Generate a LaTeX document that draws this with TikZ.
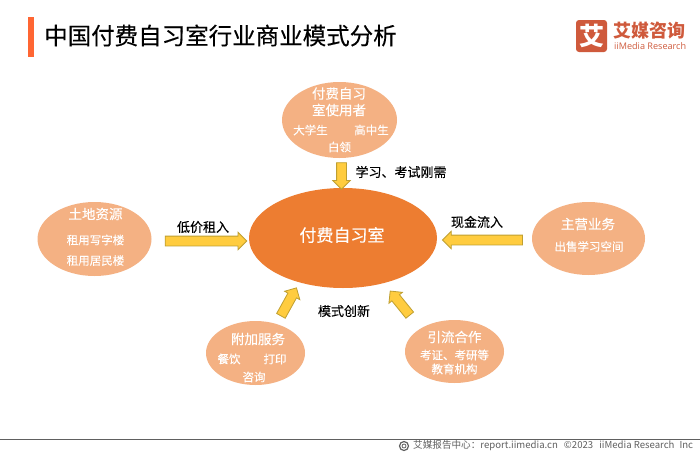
\documentclass[tikz,border=0pt]{standalone}
\usepackage{fontspec}
\setmainfont{Noto Sans CJK SC}
\newfontfamily\medf[FakeBold=0.25]{Noto Sans CJK SC}
\newfontfamily\semif[FakeBold=0.12]{Noto Sans CJK SC}
\newfontfamily\latinsans{Open Sans}
\usetikzlibrary{shapes.geometric,shapes.arrows}
\definecolor{peach}{HTML}{F4B183}
\definecolor{mainor}{HTML}{ED7D31}
\definecolor{gold}{HTML}{FFCC3F}
\definecolor{goldline}{HTML}{BF9F30}
\definecolor{barc}{HTML}{FF6633}
\definecolor{logoc}{HTML}{CF5A3C}
\definecolor{footc}{HTML}{606060}
\tikzset{
  x=1pt,y=-1pt,
  sat/.style={ellipse,fill=peach,inner sep=0pt},
  wt/.style={text=white,inner sep=0pt,font=\semif\fontsize{11.5}{13}\selectfont},
  wh/.style={text=white,inner sep=0pt,font=\medf\fontsize{13.5}{16}\selectfont},
  lab/.style={text=black,inner sep=0pt,font=\semif\fontsize{13}{15}\selectfont},
  blockarrow/.style={single arrow,draw=goldline,line width=0.8pt,fill=gold,inner xsep=0pt,inner ysep=4.5pt,
    single arrow head extend=3.8pt,single arrow tip angle=90,minimum height=#1,anchor=center},
}
\begin{document}
\begin{tikzpicture}
\useasboundingbox (0,0) rectangle (700,455);
\fill[white] (0,0) rectangle (700,455);
% header
\fill[barc] (28,17) rectangle (34,57);
\node[anchor=west,inner sep=0pt,font=\medf\fontsize{23.5}{26}\selectfont] (title) at (44,35.5) {中国付费自习室行业商业模式分析};
\node[fill=logoc,rounded corners=3pt,minimum width=31pt,minimum height=32pt,inner sep=0pt,text=white,font=\fontsize{25}{25}\bfseries] (logo) at (591.5,36) {艾};
\node[anchor=west,inner sep=0pt,text=logoc,font=\fontsize{18}{20}\bfseries] (logoa) at (613.5,31) {艾媒咨询};
\node[anchor=west,inner sep=0pt,text=logoc,font=\latinsans\fontsize{9.1}{11}\selectfont] (logob) at (614,46.5) {iiMedia Research};
% ellipses
\node[sat,minimum width=115pt,minimum height=76pt] (top) at (339.5,120) {};
\node[sat,minimum width=114pt,minimum height=74pt] (left) at (94.5,239) {};
\node[sat,minimum width=113pt,minimum height=73pt] (right) at (588.5,238.5) {};
\node[sat,minimum width=99pt,minimum height=64pt] (bl) at (255.5,353) {};
\node[sat,minimum width=99pt,minimum height=63pt] (br) at (454.5,351.5) {};
\node[ellipse,fill=mainor,inner sep=0pt,minimum width=188pt,minimum height=100pt] (core) at (343,238) {};
\node[text=white,inner sep=0pt,font=\medf\fontsize{17}{19}\selectfont] (coret) at (342,235) {付费自习室};
% block arrows
\node[blockarrow=26.5pt,rotate=-90] (atop) at (341.5,173.5) {};
\node[blockarrow=81.5pt] (aleft) at (203.5,241) {};
\node[blockarrow=80pt,rotate=180] (aright) at (485,240) {};
\node[blockarrow=32pt,rotate=61] (abl) at (287.5,304) {};
\node[blockarrow=31pt,rotate=129] (abr) at (401.5,305) {};
% ellipse text
\node[wh] (t1) at (339,93.5) {付费自习};
\node[wh] (t2) at (339,110) {室使用者};
\node[wt] (t3) at (310.5,130) {大学生};
\node[wt] (t4) at (371.5,130) {高中生};
\node[wt] (t5) at (339.5,147) {白领};
\node[wh] (l1) at (95.5,214) {土地资源};
\node[wt] (l2) at (95.5,240) {租用写字楼};
\node[wt] (l3) at (95.5,260.5) {租用居民楼};
\node[wh] (r1) at (588,224) {主营业务};
\node[wt] (r2) at (589,246.5) {出售学习空间};
\node[wh] (b1) at (258,339) {附加服务};
\node[wt] (b2) at (229,359) {餐饮};
\node[wt] (b3) at (275,359) {打印};
\node[wt] (b4) at (254,377) {咨询};
\node[wh] (c1) at (454.5,337) {引流合作};
\node[wt] (c2) at (454.5,355) {考证、考研等};
\node[wt] (c3) at (454.5,369) {教育机构};
% arrow labels
\node[lab] (la) at (401,172) {学习、考试刚需};
\node[lab] (lb) at (203,227) {低价租入};
\node[lab] (lc) at (477,222) {现金流入};
\node[lab] (ld) at (344,311) {模式创新};
% footer
\coordinate (fa) at (0,439.5);
\coordinate (fb) at (700,439.5);
\draw[footc,line width=1.3pt] (fa) -- (fb);
\node[circle,draw=footc,line width=1.2pt,minimum size=9pt,inner sep=0pt] (ficon) at (404,446) {};
\node[circle,draw=footc,line width=0.8pt,minimum size=4pt,inner sep=0pt] (ficonb) at (404,446) {};
\node[anchor=west,inner sep=0pt,text=footc,font=\fontsize{9.6}{11}\selectfont] (foot) at (413,446) {艾媒报告中心：report.iimedia.cn\hspace{6pt}©2023\hspace{6pt}iiMedia Research\hspace{5pt}Inc};
\end{tikzpicture}
\end{document}
